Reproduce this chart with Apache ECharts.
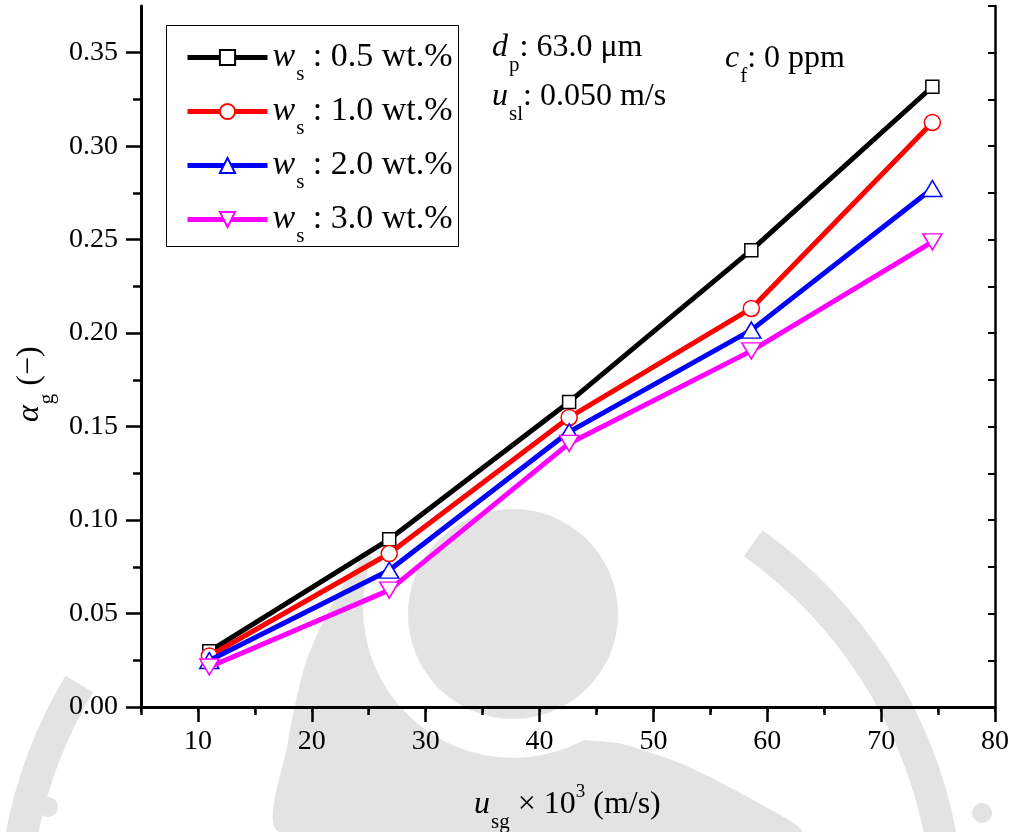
<!DOCTYPE html>
<html>
<head>
<meta charset="utf-8">
<script src="https://cdn.jsdelivr.net/npm/echarts@6/dist/echarts.min.js"></script>
<style>
  html, body { margin: 0; padding: 0; background: #fff; }
  #chart { width: 1013px; height: 832px; }
</style>
</head>
<body>
<div id="chart"></div>
<script>
// superficial gas velocity u_sg x 10^3 (m/s)
const usg = [11.0, 26.8, 42.6, 58.6, 74.5];

// gas holdup for each solids concentration
const ws05 = [0.0298, 0.0897, 0.1632, 0.2444, 0.3318];
const ws10 = [0.0273, 0.0821, 0.1549, 0.2132, 0.3127];
const ws20 = [0.0249, 0.0732, 0.1472, 0.2016, 0.2774];
const ws30 = [0.0214, 0.0625, 0.1410, 0.1905, 0.2488];

const wsLabels = ['0.5', '1.0', '2.0', '3.0'];

// tick values
const xMajor = [10, 20, 30, 40, 50, 60, 70, 80];
const xMinor = [5, 15, 25, 35, 45, 55, 65, 75];
const yMajor = [0, 0.05, 0.10, 0.15, 0.20, 0.25, 0.30, 0.35];
const yMinor = [0.025, 0.075, 0.125, 0.175, 0.225, 0.275, 0.325];

const FONT = 'Liberation Serif, Times New Roman, serif';
const WM = '#e3e3e3'; // watermark grey

const chart = echarts.init(document.getElementById('chart'));

const seriesDefs = [
  { data: ws05, color: '#000000', symbol: 'rect', size: 13, rotate: 0 },
  { data: ws10, color: '#ff0000', symbol: 'circle', size: 16, rotate: 0 },
  { data: ws20, color: '#0000ff', symbol: 'triangle', size: [19, 16], rotate: 0 },
  { data: ws30, color: '#ff00ff', symbol: 'triangle', size: [19, 16], rotate: 180 }
];

const series = seriesDefs.map((d, i) => ({
  name: 'ws' + wsLabels[i],
  type: 'line',
  data: usg.map((x, j) => [x, d.data[j]]),
  symbol: d.symbol,
  symbolSize: d.size,
  symbolRotate: d.rotate,
  showAllSymbol: true,
  lineStyle: { color: d.color, width: 5 },
  itemStyle: { color: '#ffffff', borderColor: d.color, borderWidth: 1.5 },
  emphasis: { disabled: true },
  z: 3 + i
}));

// rich text pieces: italic symbol, dropped subscript, plain text, raised superscript
const richSet = (size) => ({
  i: { fontFamily: FONT, fontStyle: 'italic', fontSize: size, lineHeight: 36 },
  s: { fontFamily: FONT, fontSize: 21, lineHeight: 36, padding: [34, 0, 0, 1] },
  t: { fontFamily: FONT, fontSize: size, lineHeight: 36 },
  p: { fontFamily: FONT, fontSize: 19, lineHeight: 36, padding: [0, 0, 26, 0] }
});
const rich32 = richSet(32);

const option = {
  animation: false,
  backgroundColor: '#ffffff',
  grid: { left: 141, right: 18, top: 6, bottom: 125 },
  legend: {
    orient: 'vertical',
    left: 185,
    top: 30,
    padding: 0,
    itemWidth: 80,
    itemHeight: 19,
    itemGap: -1,
    lineStyle: { width: 5 },
    data: series.map(s => s.name),
    formatter: name => '{i|w}{s|s}{t| : ' + name.slice(2) + ' wt.%}',
    textStyle: { color: '#000', rich: richSet(34) }
  },
  xAxis: [
    {
      type: 'value', position: 'bottom', min: 5, max: 80,
      axisLine: { lineStyle: { color: '#000', width: 3 } },
      axisTick: { customValues: xMajor, length: 15, lineStyle: { width: 2.5, color: '#000' } },
      axisLabel: { customValues: xMajor, margin: 21, color: '#000', fontFamily: FONT, fontSize: 28 },
      splitLine: { show: false }
    },
    {
      type: 'value', position: 'bottom', min: 5, max: 80,
      axisLine: { show: false },
      axisTick: { customValues: xMinor, length: 8, lineStyle: { width: 2.5, color: '#000' } },
      axisLabel: { show: false },
      splitLine: { show: false }
    },
    {
      type: 'value', position: 'top', min: 5, max: 80, interval: 5,
      axisLine: { lineStyle: { color: '#000', width: 2.5 } },
      axisTick: { inside: true, length: 5, lineStyle: { width: 2, color: '#000' } },
      axisLabel: { show: false },
      splitLine: { show: false }
    }
  ],
  yAxis: [
    {
      type: 'value', position: 'left', min: 0, max: 0.375,
      axisLine: { lineStyle: { color: '#000', width: 3 } },
      axisTick: { customValues: yMajor, length: 15, lineStyle: { width: 2.5, color: '#000' } },
      axisLabel: {
        customValues: yMajor, margin: 23, color: '#000', fontFamily: FONT, fontSize: 28,
        formatter: v => v.toFixed(2)
      },
      splitLine: { show: false }
    },
    {
      type: 'value', position: 'left', min: 0, max: 0.375,
      axisLine: { show: false },
      axisTick: { customValues: yMinor, length: 8, lineStyle: { width: 2.5, color: '#000' } },
      axisLabel: { show: false },
      splitLine: { show: false }
    },
    {
      type: 'value', position: 'right', min: 0, max: 0.375, interval: 0.025,
      axisLine: { lineStyle: { color: '#000', width: 2.5 } },
      axisTick: { inside: true, length: 7, lineStyle: { width: 2, color: '#000' } },
      axisLabel: { show: false },
      splitLine: { show: false }
    }
  ],
  graphic: [
    // faint institute logo behind the plot
    {
      type: 'arc', z: -10, silent: true,
      shape: { cx: 481, cy: 924, r: 468, startAngle: -0.95, endAngle: 3.68, clockwise: true },
      style: { fill: 'none', stroke: WM, lineWidth: 32 }
    },
    {
      type: 'polygon', z: -10, silent: true,
      shape: {
        smooth: 0.25,
        points: [[372, 556], [335, 600], [306, 662], [288, 742], [280, 832], [800, 832],
                 [742, 794], [682, 764], [622, 744], [560, 733]]
      },
      style: { fill: WM }
    },
    { type: 'circle', z: -9, silent: true, shape: { cx: 513, cy: 608, r: 150 }, style: { fill: '#fff' } },
    { type: 'circle', z: -8, silent: true, shape: { cx: 513, cy: 614, r: 105 }, style: { fill: WM } },
    { type: 'circle', z: -8, silent: true, shape: { cx: 48, cy: 807, r: 10 }, style: { fill: WM } },
    { type: 'circle', z: -8, silent: true, shape: { cx: 982, cy: 813, r: 10 }, style: { fill: WM } },
    // legend frame
    {
      type: 'rect', z: 1, silent: true,
      shape: { x: 166.5, y: 25.5, width: 292, height: 221 },
      style: { fill: '#fff', stroke: '#000', lineWidth: 1 }
    },
    // parameter notes
    { type: 'text', x: 492, y: 30, z: 10, style: { text: '{i|d}{s|p}{t|: 63.0 μm}', rich: rich32 } },
    { type: 'text', x: 492, y: 79, z: 10, style: { text: '{i|u}{s|sl}{t|: 0.050 m/s}', rich: rich32 } },
    { type: 'text', x: 725, y: 41, z: 10, style: { text: '{i|c}{s|f}{t|: 0 ppm}', rich: rich32 } },
    // axis titles
    { type: 'text', x: 474, y: 787, z: 10, style: { text: '{i|u}{s|sg}{t| × 10}{p|3}{t| (m/s)}', rich: rich32 } },
    { type: 'text', x: 12, y: 422, rotation: Math.PI / 2, z: 10, style: { text: '{i|α}{s|g}{t| (−)}', rich: rich32 } }
  ],
  series: series
};

chart.setOption(option);
</script>
</body>
</html>
